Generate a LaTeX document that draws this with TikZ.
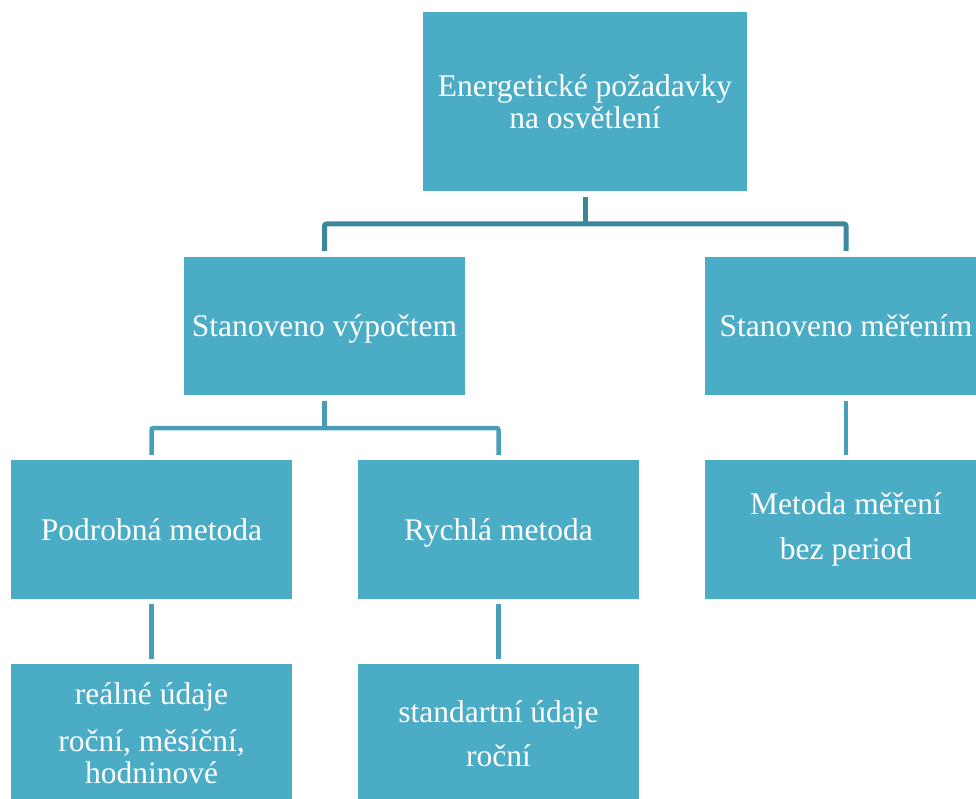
\documentclass[tikz,border=0pt]{standalone}
\usepackage{fontspec}
\setmainfont{Liberation Serif}
\usetikzlibrary{calc}
\definecolor{boxfill}{RGB}{75,172,198}
\definecolor{lineA}{RGB}{59,135,156}
\definecolor{lineB}{RGB}{71,158,182}
\begin{document}
\begin{tikzpicture}[x=1pt,y=-1pt,
  box/.style={fill=boxfill, draw=none, inner sep=0pt, align=center, text=white,
    font=\fontsize{31.5}{32.5}\selectfont},
  oneline/.style={text height=21pt, text depth=0pt},
  connA/.style={draw=lineA, line width=5pt, rounded corners=2pt},
  connB/.style={draw=lineB, line width=4.5pt, rounded corners=2pt}]
\path[use as bounding box] (0,0) rectangle (976,799);
\clip (0,0) rectangle (976,799);
% boxes
\node[box, minimum width=324pt, minimum height=179pt] (top) at (585,101.5) {Energetické požadavky\\na osvětlení};
\node[box, oneline, minimum width=281pt, minimum height=138pt] (sv) at (324.5,326) {Stanoveno výpočtem};
\node[box, oneline, minimum width=282pt, minimum height=138pt] (sm) at (846,326) {Stanoveno měřením};
\node[box, oneline, minimum width=281pt, minimum height=139pt] (pm) at (151.5,529.5) {Podrobná metoda};
\node[box, oneline, minimum width=281pt, minimum height=139pt] (rm) at (498.5,529.5) {Rychlá metoda};
\node[box, minimum width=282pt, minimum height=139pt] (mm) at (846,529.5) {Metoda měření\\[12pt]bez period};
\node[box, minimum width=281pt, minimum height=139pt] (ru) at (151.5,733.5) {reálné údaje\\[14pt]roční, měsíční,\\hodninové};
\node[box, minimum width=281pt, minimum height=139pt] (su) at (498.5,733.5) {standartní údaje\\[12pt]roční};
% connectors level 1
\coordinate (a0) at ($(top.south)+(0,6)$);
\coordinate (aL) at ($(sv.north)+(0,-6)$);
\coordinate (aR) at ($(sm.north)+(0,-6)$);
\draw[connA] (aL) -- (aL |- 0,224) -- (aR |- 0,224) -- (aR);
\draw[connA] (a0) -- (a0 |- 0,224);
% connectors level 2
\coordinate (b0) at ($(sv.south)+(0,6)$);
\coordinate (bL) at ($(pm.north)+(0,-5)$);
\coordinate (bR) at ($(rm.north)+(0,-5)$);
\draw[connB] (bL) -- (bL |- 0,428) -- (bR |- 0,428) -- (bR);
\draw[connB] (b0) -- (b0 |- 0,428);
% single verticals
\draw[connB] ($(sm.south)+(0,6)$) -- ($(mm.north)+(0,-5)$);
\draw[connB] ($(pm.south)+(0,5)$) -- ($(ru.north)+(0,-5)$);
\draw[connB] ($(rm.south)+(0,5)$) -- ($(su.north)+(0,-5)$);
\end{tikzpicture}
\end{document}
